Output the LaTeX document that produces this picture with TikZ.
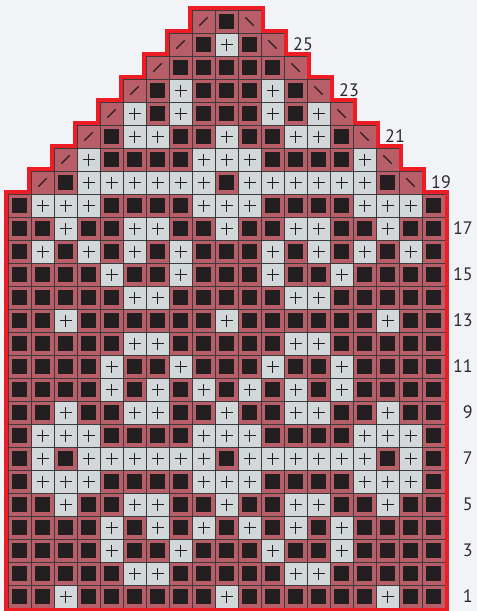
\documentclass[tikz,border=0pt]{standalone}
\usepackage{fontspec}
\setmainfont{PT Sans}
\definecolor{bg}{HTML}{F1F3F7}
\definecolor{rose}{HTML}{B85E68}
\definecolor{ink}{HTML}{231F20}
\definecolor{lite}{HTML}{D2D7DA}
\definecolor{gridc}{HTML}{3C3A3B}
\definecolor{outl}{HTML}{EE1C25}
\definecolor{txt}{HTML}{2A2A2A}
\begin{document}
\begin{tikzpicture}[x=1pt,y=-1pt,
  rosecell/.style={fill=rose,draw=gridc,line width=0.7pt},
  litecell/.style={fill=lite,draw=gridc,line width=0.7pt},
  inksq/.style={fill=ink},
  symline/.style={draw=ink,line width=1.3pt},
  decline/.style={draw=ink,line width=1.1pt},
  lbl/.style={text=txt,font=\fontsize{18}{20}\selectfont,inner sep=0pt},
  outline/.style={draw=outl,line width=4pt,line join=miter}]
\fill[bg] (0,0) rectangle (477,611);
\useasboundingbox (0,0) rectangle (477,611);
\foreach \r/\lo/\hi/\pl in {
  1/1/19/{3,10,17},
  2/1/19/{6,7,13,14},
  3/1/19/{5,8,12,15},
  4/1/19/{5,7,9,11,13,15},
  5/1/19/{3,6,7,10,13,14,17},
  6/1/19/{2,3,4,9,10,11,16,17,18},
  7/1/19/{2,4,5,6,7,8,9,11,12,13,14,15,16,18},
  8/1/19/{2,3,4,9,10,11,16,17,18},
  9/1/19/{3,6,7,10,13,14,17},
  10/1/19/{5,7,9,11,13,15},
  11/1/19/{5,8,12,15},
  12/1/19/{6,7,13,14},
  13/1/19/{3,10,17},
  14/1/19/{6,7,13,14},
  15/1/19/{5,8,12,15},
  16/1/19/{2,4,6,8,12,14,16,18},
  17/1/19/{3,6,7,10,13,14,17},
  18/1/19/{2,3,4,9,10,11,16,17,18},
  19/2/18/{4,5,6,7,8,9,11,12,13,14,15,16},
  20/3/17/{4,9,10,11,16},
  21/4/16/{6,7,10,13,14},
  22/5/15/{6,8,12,14},
  23/6/14/{8,12},
  24/7/13/{0},
  25/8/12/{10},
  26/9/11/{0}} {
  \pgfmathsetmacro{\yt}{608-\r*23}
  \foreach \c in {\lo,...,\hi} {
    \pgfmathsetmacro{\xl}{8+(\c-1)*23}
    \path[rosecell] (\xl,\yt) rectangle ++(23,23);
    \path[inksq] (\xl+4,\yt+4) rectangle ++(15,15);
  }
  \foreach \p in \pl {
    \ifnum\p>0
      \pgfmathsetmacro{\xl}{8+(\p-1)*23}
      \path[litecell] (\xl,\yt) rectangle ++(23,23);
      \draw[symline] (\xl+5.5,\yt+11.5) -- ++(12,0) (\xl+11.5,\yt+5.5) -- ++(0,12);
    \fi
  }
  \ifnum\r>18
    \pgfmathsetmacro{\xa}{8+(\lo-1)*23}
    \pgfmathsetmacro{\xb}{8+(\hi-1)*23}
    \path[rosecell] (\xa,\yt) rectangle ++(23,23);
    \draw[decline] (\xa+7.3,\yt+15.7) -- ++(8.4,-8.4);
    \path[rosecell] (\xb,\yt) rectangle ++(23,23);
    \draw[decline] (\xb+7.3,\yt+7.3) -- ++(8.4,8.4);
  \fi
}
% outline of the shaped chart
\draw[outline] (6,610) -- (6,192) -- (29,192) -- (29,169) -- (52,169) -- (52,146)
  -- (75,146) -- (75,123) -- (98,123) -- (98,100) -- (121,100) -- (121,77)
  -- (144,77) -- (144,54) -- (167,54) -- (167,31) -- (190,31) -- (190,8)
  -- (263,8) -- (263,31) -- (286,31) -- (286,54) -- (309,54) -- (309,77)
  -- (332,77) -- (332,100) -- (355,100) -- (355,123) -- (378,123) -- (378,146)
  -- (401,146) -- (401,169) -- (424,169) -- (424,192) -- (447,192) -- (447,610)
  -- cycle;
% row numbers
\foreach \n in {1,3,...,17} {
  \node[lbl,anchor=east] (lab\n) at (473,{608-(\n-0.5)*23}) {\n};
}
\node[lbl,anchor=west] (lab19) at (431,{608-18.5*23}) {19};
\node[lbl,anchor=west] (lab21) at (385,{608-20.5*23}) {21};
\node[lbl,anchor=west] (lab23) at (339,{608-22.5*23}) {23};
\node[lbl,anchor=west] (lab25) at (293,{608-24.5*23}) {25};
\end{tikzpicture}
\end{document}
